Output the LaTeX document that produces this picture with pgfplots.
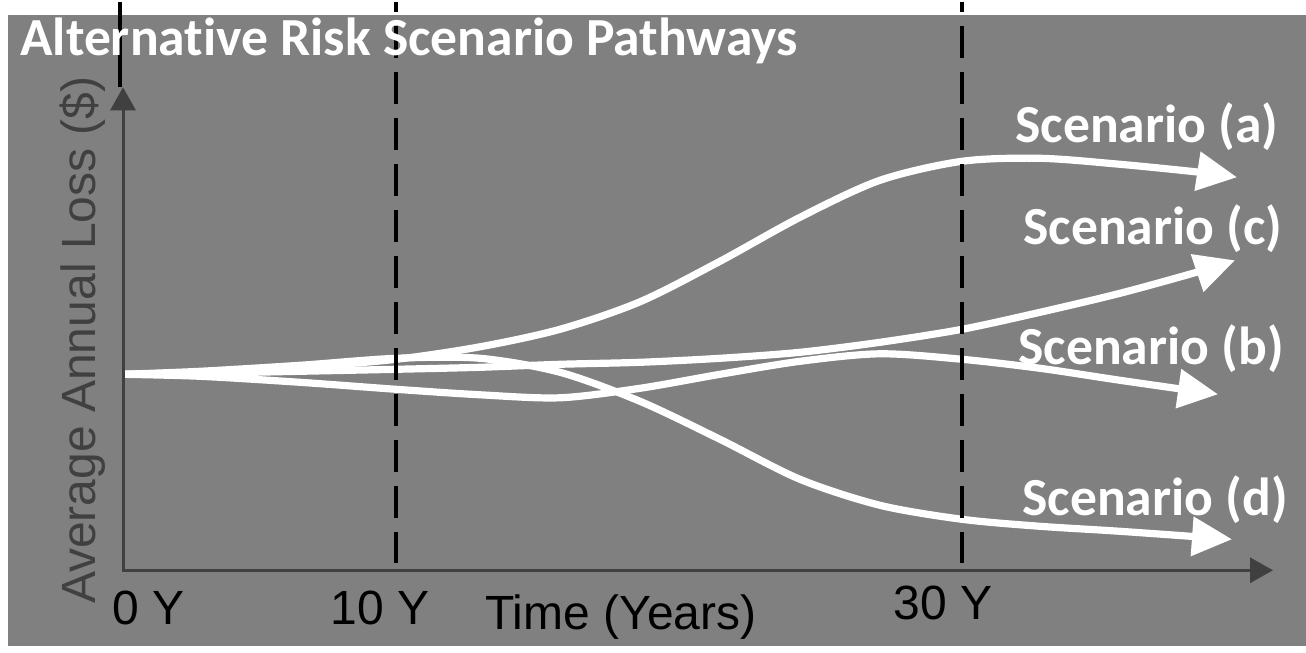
\documentclass[border=0pt]{standalone}
\usepackage{fontspec}
\setmainfont{Carlito}[Ligatures=NoCommon]
\newfontfamily\arial{Liberation Sans}
\usepackage{pgfplots}
\pgfplotsset{compat=1.18}
\usetikzlibrary{arrows.meta}

\definecolor{bg}{RGB}{128,128,128}
\definecolor{axisgray}{RGB}{64,64,64}

\tikzset{
  path/.style={white, line width=3.6pt, smooth, tension=0.5,
    -{Triangle[length=20pt,width=19pt]}},
  marker/.style={black, line width=2.3pt,
    dash pattern=on 16pt off 7pt, dash phase=11pt},
  scen/.style={white, inner sep=0pt,
    font=\fontsize{26.8}{30}\selectfont\bfseries, anchor=base west},
  tick/.style={black, inner sep=0pt,
    font=\arial\fontsize{24}{28}\selectfont, anchor=base west}
}

\begin{document}
\begin{tikzpicture}
\begin{axis}[
  width=653pt, height=325pt, scale only axis,
  xmin=-123, xmax=1183, ymin=-82, ymax=568,
  hide axis, clip=false,
]
% backgrounds
\fill[white] (rel axis cs:0,0) rectangle (rel axis cs:1,1);
\fill[bg] (axis cs:-115,555) rectangle (axis cs:1183,-76);

% scenario (a)
\addplot[path] coordinates {
  (0,196) (77,198) (177,203) (273,211) (357,223.5) (437,241) (517,268.5)
  (597,309) (677,353) (757,390) (839,409) (917,412) (997,406) (1077,398)
  (1114,393)
};
% scenario (c)
\addplot[path] coordinates {
  (0,196) (77,197) (177,199) (273,201) (357,203) (437,206) (517,208)
  (597,212) (677,218) (757,228) (839,241) (917,258) (997,277) (1077,299)
  (1112,310)
};
% scenario (b)
\addplot[path] coordinates {
  (0,196) (77,194) (177,188) (273,181) (357,175.5) (437,172.5) (517,182)
  (597,196) (677,209) (757,216.5) (839,211) (917,202) (997,190) (1095,176)
};
% scenario (d)
\addplot[path] coordinates {
  (0,196) (77,199) (177,205) (273,212) (357,212) (437,198) (517,169)
  (597,131) (677,91) (757,65) (839,51) (917,44) (997,39) (1109,31)
};

% time markers
\addplot[black, line width=2.3pt] coordinates {(-3,568) (-3,483)};
\addplot[marker] coordinates {(273,568) (273,7)};
\addplot[marker] coordinates {(839,568) (839,7)};

% axes
\draw[axisgray, line width=1.5pt,
  {Triangle[length=11.5pt,width=12.5pt]}-{Triangle[length=11.5pt,width=12.5pt]}]
  (axis cs:0,483) -- (axis cs:0,0) -- (axis cs:1150,0);

% texts
\node[scen] at (axis cs:-103,515) {Alternative Risk Scenario Pathways};
\node[scen] at (axis cs:892,428) {Scenario (a)};
\node[scen] at (axis cs:900,326) {Scenario (c)};
\node[scen] at (axis cs:895,206) {Scenario (b)};
\node[scen] at (axis cs:899,55) {Scenario (d)};

\node[tick] at (axis cs:-11,-54) {0 Y};
\node[tick] at (axis cs:207,-54) {10 Y};
\node[tick] at (axis cs:770,-49) {30 Y};
\node[tick] at (axis cs:362,-59) {Time (Years)};
\node[tick, text=axisgray, rotate=90] at (axis cs:-28,-34) {Average Annual Loss (\$)};
\end{axis}
\end{tikzpicture}
\end{document}
